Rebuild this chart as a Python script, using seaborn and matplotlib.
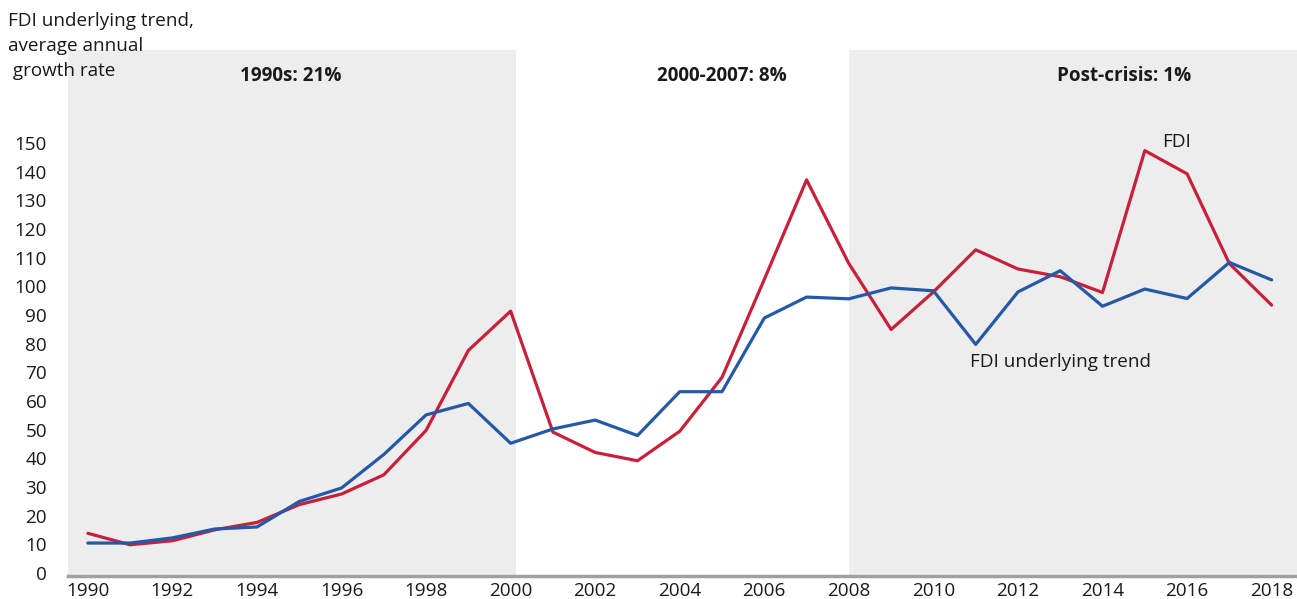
import matplotlib
matplotlib.use("Agg")
import matplotlib.pyplot as plt
import seaborn as sns
import pandas as pd

years = list(range(1990, 2019))
fdi = [13.9, 9.9, 11.3, 15.1, 17.7, 23.9, 27.6, 34.3, 49.8, 77.7, 91.4,
       49.2, 42.1, 39.2, 49.5, 68.3, 102.5, 137.2, 108.0, 85.0, 98.1,
       112.8, 106.1, 103.4, 97.9, 147.4, 139.3, 108.0, 93.5]
trend = [10.5, 10.5, 12.3, 15.4, 16.1, 25.0, 29.7, 41.4, 55.2, 59.2, 45.3,
         50.3, 53.4, 48.0, 63.3, 63.3, 89.0, 96.3, 95.7, 99.5, 98.5,
         79.8, 98.1, 105.5, 93.1, 99.1, 95.8, 108.4, 102.3]
yticks = list(range(0, 151, 10))
xticks = list(range(1990, 2019, 2))
period_labels = ["1990s: 21%", "2000-2007: 8%", "Post-crisis: 1%"]
period_x = [1994.8, 2005.0, 2014.5]

df = pd.DataFrame({"year": years * 2,
                   "value": fdi + trend,
                   "series": ["FDI"] * len(years) + ["FDI underlying trend"] * len(years)})

sns.set_theme(style="white")
plt.rcParams["font.family"] = ["Open Sans", "DejaVu Sans"]

FS = 13.6
fig = plt.figure(figsize=(12.97, 5.99), dpi=100)
ax = fig.add_axes([68 / 1297, 1 - 576 / 599, 1 - 68 / 1297, (576 - 50) / 599])

ax.axvspan(1989.53, 2000.12, color="#ededed", zorder=0, lw=0)
ax.axvspan(2008.0, 2018.7, color="#ededed", zorder=0, lw=0)

sns.lineplot(data=df, x="year", y="value", hue="series",
             palette={"FDI": "#c8203a", "FDI underlying trend": "#2459a8"},
             linewidth=2.3, legend=False, ax=ax, zorder=3)

ax.set_xlim(1989.53, 2018.6)
ax.set_ylim(-1.0, 182.5)
ax.set_xticks(xticks)
ax.set_xticklabels([str(x) for x in xticks], fontsize=FS, color="#1a1a1a")
ax.set_yticks(yticks)
ax.set_yticklabels([str(y) for y in yticks], fontsize=FS, color="#1a1a1a")
ax.tick_params(axis="both", length=0)
ax.tick_params(axis="y", pad=15)
ax.tick_params(axis="x", pad=4)
ax.set_xlabel("")
ax.set_ylabel("")
for s in ["top", "right", "left"]:
    ax.spines[s].set_visible(False)
ax.spines["bottom"].set_color("#a0a0a0")
ax.spines["bottom"].set_linewidth(2.5)
ax.set_facecolor("none")

for lab, xp in zip(period_labels, period_x):
    ax.text(xp, 173.5, lab, ha="center", va="center", fontsize=FS,
            fontweight="bold", color="#1a1a1a")

ax.text(2015.4, 150.5, "FDI", ha="left", va="center", fontsize=FS, color="#1a1a1a")
ax.text(2013.0, 73.5, "FDI underlying trend", ha="center", va="center",
        fontsize=FS, color="#1a1a1a")

fig.text(8 / 1297, 1 - 12 / 599, "FDI underlying trend,\naverage annual\n growth rate",
         ha="left", va="top", fontsize=FS, color="#1a1a1a", linespacing=1.5)

fig.savefig("out.png", dpi=100)
